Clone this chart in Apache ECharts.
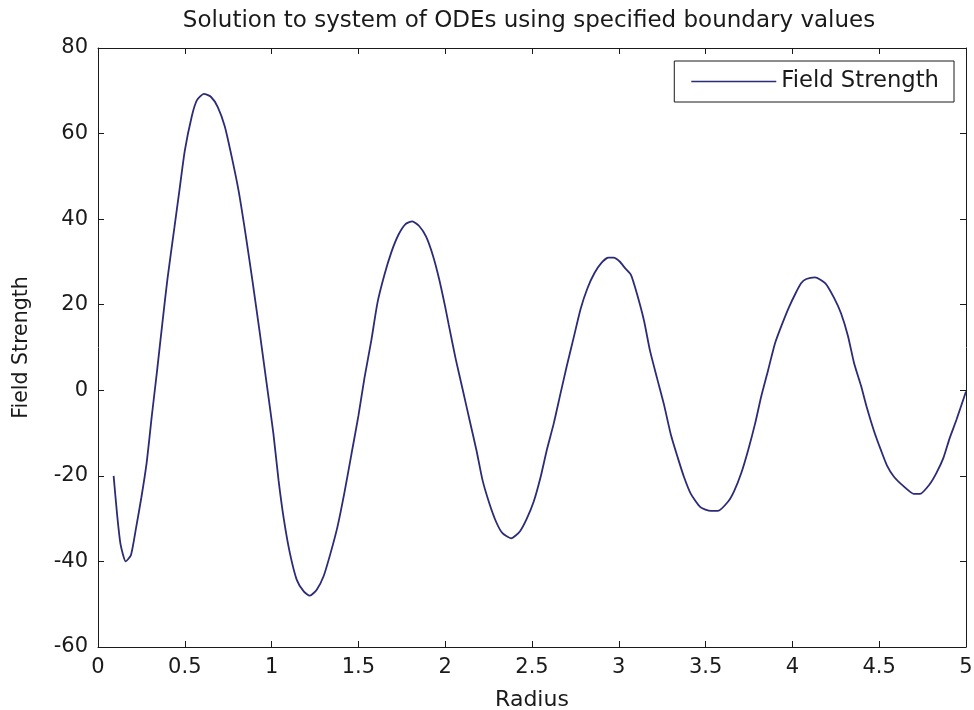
<!DOCTYPE html>
<html>
<head>
<meta charset="utf-8">
<script src="https://cdn.jsdelivr.net/npm/echarts@6/dist/echarts.min.js"></script>
<style>
html,body{margin:0;padding:0;background:#fff;}
#chart{width:974px;height:710px;}
</style>
</head>
<body>
<div id="chart"></div>
<script>
// Radius values (x)
var radius = [0.09,0.11,0.13,0.16,0.19,0.22,0.25,0.28,0.31,0.34,0.37,0.40,0.44,0.47,0.50,0.54,0.57,0.61,0.65,0.69,0.73,0.77,0.81,0.85,0.89,0.93,0.97,1.01,1.04,1.07,1.105,1.145,1.185,1.22,1.26,1.30,1.34,1.38,1.42,1.46,1.50,1.535,1.575,1.61,1.65,1.69,1.73,1.77,1.81,1.85,1.89,1.93,1.965,2.00,2.02,2.06,2.10,2.14,2.18,2.215,2.255,2.295,2.33,2.38,2.43,2.47,2.51,2.55,2.585,2.625,2.665,2.70,2.74,2.78,2.82,2.86,2.90,2.94,2.97,3.005,3.035,3.07,3.105,3.145,3.18,3.22,3.26,3.30,3.34,3.375,3.415,3.47,3.53,3.57,3.63,3.665,3.705,3.745,3.785,3.82,3.86,3.90,3.94,3.98,4.02,4.05,4.08,4.13,4.19,4.24,4.28,4.32,4.355,4.395,4.43,4.47,4.51,4.545,4.585,4.64,4.70,4.735,4.79,4.83,4.87,4.905,4.945,5.0];
// Field strength values (y)
var fieldStrength = [-20,-29,-36,-40,-38.5,-32,-25,-17,-6,4.5,15.4,26,38,47,56,64,67.8,69.3,68.6,66.2,61.7,54.6,46.6,36.5,25.5,14,2,-10,-21,-30,-38,-44.3,-47,-48,-46.6,-43.4,-38,-31.8,-23.8,-14.9,-6,2.9,11.8,20.5,27,32.3,36.3,38.8,39.5,38.4,35.9,31.4,26,19.5,15.4,7.4,0.3,-6.9,-14,-21,-26.5,-30.9,-33.4,-34.6,-33,-30,-26,-20.2,-14,-7.8,-0.6,5.6,12.3,19,23.9,27.4,29.8,31,31,30.1,28.6,27,22.5,16.3,9.2,2.9,-3.3,-10.4,-15.8,-20.2,-24.2,-27.3,-28.2,-28.2,-26,-23.5,-19.4,-14,-7.8,-1.5,4.7,11,15.4,19.4,22.8,25,26,26.4,25,21.6,18,12.7,6.4,1.1,-4.2,-9.5,-14,-17.6,-20.2,-22.4,-24.2,-24.2,-22,-19.3,-15.8,-11.3,-6.9,-0.3];

var seriesName = 'Field Strength';
var titleText = 'Solution to system of ODEs using specified boundary values';
var xName = 'Radius';
var yName = 'Field Strength';

var points = radius.map(function(r, i){ return [r, fieldStrength[i]]; });

var font = 'DejaVu Sans, Verdana, sans-serif';
var textColor = '#1a1a1a';
var lineColor = '#2b2b78';

function axisBase(show){
  return {
    axisLine: {show: true, onZero: false, lineStyle: {color: '#1a1a1a', width: 1}},
    axisTick: {show: true, inside: true, length: 6, lineStyle: {color: '#1a1a1a'}},
    splitLine: {show: false},
    axisLabel: {show: show, color: textColor, fontFamily: font, fontSize: 21}
  };
}

var chart = echarts.init(document.getElementById('chart'), null, {renderer: 'canvas'});
var xMain = Object.assign(axisBase(true), {
  type: 'value', min: 0, max: 5, interval: 0.5, position: 'bottom',
  name: xName, nameLocation: 'middle', nameGap: 42,
  nameTextStyle: {color: textColor, fontFamily: font, fontSize: 22}
});
xMain.axisLabel.margin = 10;
var xTop = Object.assign(axisBase(false), {type: 'value', min: 0, max: 5, interval: 0.5, position: 'top'});
var yMain = Object.assign(axisBase(true), {
  type: 'value', min: -60, max: 80, interval: 20, position: 'left',
  name: yName, nameLocation: 'middle', nameGap: 66, nameRotate: 90,
  nameTextStyle: {color: textColor, fontFamily: font, fontSize: 20.5}
});
yMain.axisLabel.margin = 10;
var yRight = Object.assign(axisBase(false), {type: 'value', min: -60, max: 80, interval: 20, position: 'right'});

chart.setOption({
  animation: false,
  backgroundColor: '#ffffff',
  title: {
    text: titleText, left: 524, top: 5, textAlign: 'center',
    textStyle: {color: textColor, fontFamily: font, fontSize: 23, fontWeight: 'normal'}
  },
  grid: {left: 98, right: 8, top: 48, bottom: 63, containLabel: false, outerBoundsMode: 'none'},
  legend: {
    data: [{name: seriesName, icon: 'rect'}],
    right: 20, top: 61,
    orient: 'horizontal',
    itemWidth: 85, itemHeight: 1.5, itemGap: 4,
    padding: [9, 15, 9, 17],
    borderColor: '#1a1a1a', borderWidth: 1, borderRadius: 0,
    backgroundColor: '#ffffff',
    textStyle: {color: textColor, fontFamily: font, fontSize: 22.7}
  },
  xAxis: [xMain, xTop],
  yAxis: [yMain, yRight],
  series: [{
    name: seriesName,
    type: 'line',
    xAxisIndex: 0, yAxisIndex: 0,
    data: points,
    showSymbol: false,
    symbol: 'none',
    smooth: 0.2,
    lineStyle: {color: lineColor, width: 1.8},
    itemStyle: {color: lineColor}
  }]
});
</script>
</body>
</html>
